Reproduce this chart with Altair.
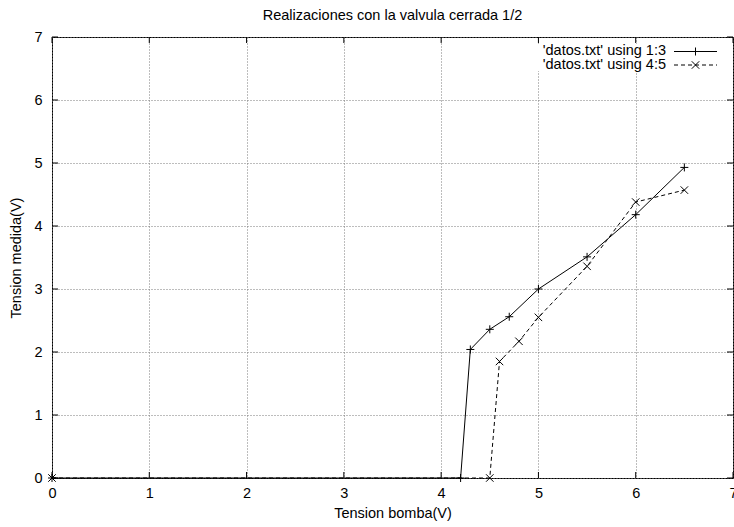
import altair as alt
import pandas as pd

# Measurements: pump voltage vs. measured voltage (valve closed 1/2)
tension_bomba_a = [0.0, 4.2, 4.3, 4.5, 4.7, 5.0, 5.5, 6.0, 6.5]
tension_medida_a = [0.0, 0.0, 2.04, 2.36, 2.56, 3.0, 3.51, 4.18, 4.93]

tension_bomba_b = [0.0, 4.5, 4.6, 4.8, 5.0, 5.5, 6.0, 6.5]
tension_medida_b = [0.0, 0.0, 1.85, 2.17, 2.55, 3.36, 4.38, 4.57]

series_labels = ["'datos.txt' using 1:3", "'datos.txt' using 4:5"]
tick_values = [0, 1, 2, 3, 4, 5, 6, 7]

W, H = 681, 441
FONT = "Liberation Sans"
FS = 14.5

PLUS = "M-1,0L1,0M0,-1L0,1"
CROSS = "M-1,-1L1,1M-1,1L1,-1"

df_a = pd.DataFrame({"x": tension_bomba_a, "y": tension_medida_a})
df_b = pd.DataFrame({"x": tension_bomba_b, "y": tension_medida_b})
df_ticks = pd.DataFrame({"x": tick_values, "y": tick_values})

xs = alt.Scale(domain=[0, 7], nice=False, zero=False)
ys = alt.Scale(domain=[0, 7], nice=False, zero=False)
x_axis = alt.Axis(values=tick_values, title="Tension bomba(V)",
                  labelPadding=8, titlePadding=7, labelFlush=False,
                  labelOverlap=False)
y_axis = alt.Axis(values=tick_values, title="Tension medida(V)",
                  labelPadding=10, titlePadding=10, labelFlush=False,
                  labelOverlap=False)


def X():
    return alt.X("x:Q", scale=xs, axis=x_axis)


def Y():
    return alt.Y("y:Q", scale=ys, axis=y_axis)


# Key area is kept clear of grid lines
key_bg = alt.Chart(pd.DataFrame({"k": [0]})).mark_rect(color="white").encode(
    x=alt.value(483), x2=alt.value(671), y=alt.value(7), y2=alt.value(34))

# Inward tick marks on all four borders
tick_style = dict(color="black", strokeWidth=1)
ticks_bottom = alt.Chart(df_ticks).mark_rule(**tick_style).encode(
    x=X(), y=alt.value(H), y2=alt.value(H - 6))
ticks_top = alt.Chart(df_ticks).mark_rule(**tick_style).encode(
    x=X(), y=alt.value(0), y2=alt.value(6))
ticks_left = alt.Chart(df_ticks).mark_rule(**tick_style).encode(
    y=Y(), x=alt.value(0), x2=alt.value(6))
ticks_right = alt.Chart(df_ticks).mark_rule(**tick_style).encode(
    y=Y(), x=alt.value(W), x2=alt.value(W - 6))

line_a = alt.Chart(df_a).mark_line(color="black", strokeWidth=1).encode(
    x=X(), y=Y(), order="x:Q")
pts_a = alt.Chart(df_a).mark_point(
    shape=PLUS, size=64, filled=False, color="black", strokeWidth=1, opacity=1
).encode(x=X(), y=Y())

line_b = alt.Chart(df_b).mark_line(color="black", strokeWidth=1, strokeDash=[4, 3]).encode(
    x=X(), y=Y(), order="x:Q")
pts_b = alt.Chart(df_b).mark_point(
    shape=CROSS, size=56, filled=False, color="black", strokeWidth=1, opacity=1
).encode(x=X(), y=Y())

# Key entries
key_layers = []
rows = [(series_labels[0], 17.8, 14.5, PLUS, 64, None),
        (series_labels[1], 31.8, 28.0, CROSS, 56, [4, 3])]
for label, ty_text, ty_line, shape, sz, dash in rows:
    d = pd.DataFrame({"label": [label]})
    key_layers.append(alt.Chart(d).mark_text(
        align="right", baseline="alphabetic", font=FONT, fontSize=FS, color="black"
    ).encode(text="label:N", x=alt.value(614), y=alt.value(ty_text)))
    rule_kw = dict(color="black", strokeWidth=1)
    if dash:
        rule_kw["strokeDash"] = dash
    key_layers.append(alt.Chart(d).mark_rule(**rule_kw).encode(
        x=alt.value(622), x2=alt.value(665), y=alt.value(ty_line)))
    key_layers.append(alt.Chart(d).mark_point(
        shape=shape, size=sz, filled=False, color="black", strokeWidth=1, opacity=1
    ).encode(x=alt.value(643.5), y=alt.value(ty_line)))

chart = alt.layer(
    line_a, key_bg, ticks_bottom, ticks_top, ticks_left, ticks_right,
    pts_a, line_b, pts_b, *key_layers
).properties(
    width=W, height=H,
    background="white",
    title=alt.TitleParams(
        "Realizaciones con la valvula cerrada 1/2",
        font=FONT, fontSize=FS, fontWeight="normal", color="black",
        anchor="middle", offset=6),
    autosize=alt.AutoSizeParams(type="none"),
    padding={"left": 52, "top": 37, "right": 1, "bottom": 49},
).configure_view(
    stroke="black", strokeWidth=1
).configure_axis(
    domain=False, ticks=False, tickSize=0,
    grid=True, gridColor="#7a7a7a", gridDash=[1, 2], gridWidth=1,
    labelFont=FONT, labelFontSize=FS, labelColor="black",
    titleFont=FONT, titleFontSize=FS, titleFontWeight="normal", titleColor="black",
)

chart.save("out.html", embed_options={"renderer": "svg", "actions": False})
